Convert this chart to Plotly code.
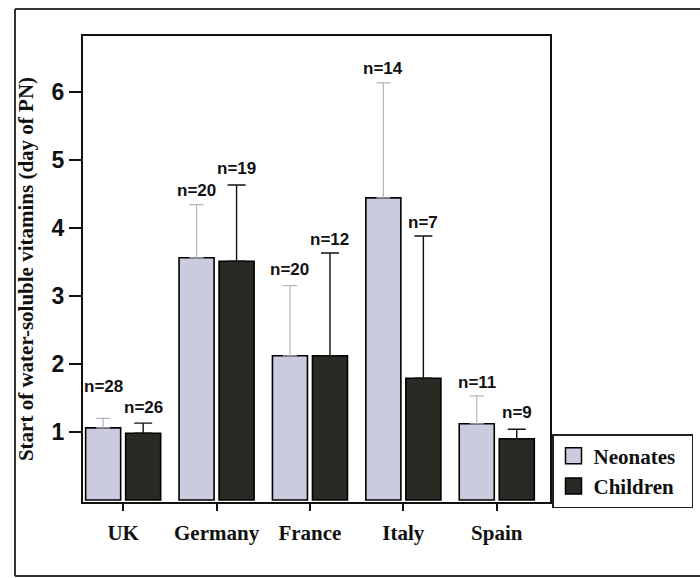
import plotly.graph_objects as go

countries = ["UK", "Germany", "France", "Italy", "Spain"]
neonates = [1.06, 3.56, 2.12, 4.44, 1.12]
neonates_err = [0.14, 0.78, 1.03, 1.69, 0.41]
children = [0.98, 3.51, 2.12, 1.79, 0.90]
children_err = [0.15, 1.12, 1.51, 2.09, 0.14]
n_neonates = [28, 20, 20, 14, 11]
n_children = [26, 19, 12, 7, 9]
label_shift_neo = [32, 14, 16, 14, 13]
label_shift_chi = [16, 16, 14, 14, 17]

NEO_COLOR = "#cbcbdf"
CHI_COLOR = "#2a2a24"

fig = go.Figure()
fig.add_trace(go.Bar(
    name="Neonates", x=countries, y=neonates, showlegend=False,
    marker=dict(color=NEO_COLOR, line=dict(color="black", width=1.6)),
    error_y=dict(type="data", array=neonates_err, arrayminus=[0]*5, symmetric=False,
                 color="#b4b4c4", thickness=1.2, width=7),
))
fig.add_trace(go.Bar(
    name="Children", x=countries, y=children, showlegend=False,
    marker=dict(color=CHI_COLOR, line=dict(color="black", width=1.6)),
    error_y=dict(type="data", array=children_err, arrayminus=[0]*5, symmetric=False,
                 color="#111111", thickness=1.4, width=9),
))
# legend entries with larger square swatches
for name, col in [("Neonates", NEO_COLOR), ("Children", CHI_COLOR)]:
    fig.add_trace(go.Scatter(
        name=name + "&nbsp;&nbsp;", x=[None], y=[None], mode="markers",
        marker=dict(symbol="square", size=16, color=col, line=dict(color="black", width=1.5)),
    ))

ann = []
for i, c in enumerate(countries):
    ann.append(dict(x=c, y=neonates[i] + neonates_err[i], xref="x", yref="y",
                    text=f"n={n_neonates[i]}", showarrow=False, xshift=-20,
                    yshift=label_shift_neo[i], yanchor="middle",
                    font=dict(family="Liberation Sans", size=17, color="#111", weight="bold")))
    ann.append(dict(x=c, y=children[i] + children_err[i], xref="x", yref="y",
                    text=f"n={n_children[i]}", showarrow=False, xshift=20,
                    yshift=label_shift_chi[i], yanchor="middle",
                    font=dict(family="Liberation Sans", size=17, color="#111", weight="bold")))

# outer frame lines (decorative border of the scanned figure)
L, T, W, H = 83, 36, 467, 466
def px(xp): return (xp - L) / W
def py(yp): return (T + H - yp) / H
shapes = [
    dict(type="line", xref="paper", yref="paper", x0=px(15), x1=px(700), y0=py(9), y1=py(9),
         line=dict(color="#333", width=2)),
    dict(type="line", xref="paper", yref="paper", x0=px(15), x1=px(15), y0=py(9), y1=py(576),
         line=dict(color="#333", width=2)),
    dict(type="line", xref="paper", yref="paper", x0=px(15), x1=px(700), y0=py(576), y1=py(576),
         line=dict(color="#333", width=2)),
]

fig.update_layout(
    width=700, height=578,
    margin=dict(l=L, r=700 - L - W, t=T, b=578 - T - H, autoexpand=False),
    paper_bgcolor="white", plot_bgcolor="white",
    barmode="group", bargap=0.143, bargroupgap=0.125,
    showlegend=True,
    legend=dict(x=px(552), y=py(434), xanchor="left", yanchor="top",
                bordercolor="#222", borderwidth=1.5,
                font=dict(family="Liberation Serif", size=21, color="#111", weight="bold"),
                itemwidth=30, tracegroupgap=2),
    annotations=ann,
    shapes=shapes,
    xaxis=dict(range=[-0.43, 4.57], showline=True, linecolor="#111", linewidth=2, mirror=True,
               ticks="outside", ticklen=7, tickwidth=2, tickcolor="#111",
               ticklabelstandoff=4,
               tickfont=dict(family="Liberation Serif", size=21, color="#111", weight="bold"),
               showgrid=False),
    yaxis=dict(range=[-0.03, 6.82], showline=True, linecolor="#111", linewidth=2, mirror=True,
               ticks="outside", ticklen=12, tickwidth=2, tickcolor="#111",
               tickvals=[1, 2, 3, 4, 5, 6], showgrid=False, zeroline=False,
               tickfont=dict(family="Liberation Sans", size=23, color="#111", weight="bold"),
               title=dict(text="<b>Start of water-soluble vitamins (day of PN)</b>",
                          font=dict(family="Liberation Serif", size=21, color="#111"),
                          standoff=12)),
)

fig.write_html("out.html")
